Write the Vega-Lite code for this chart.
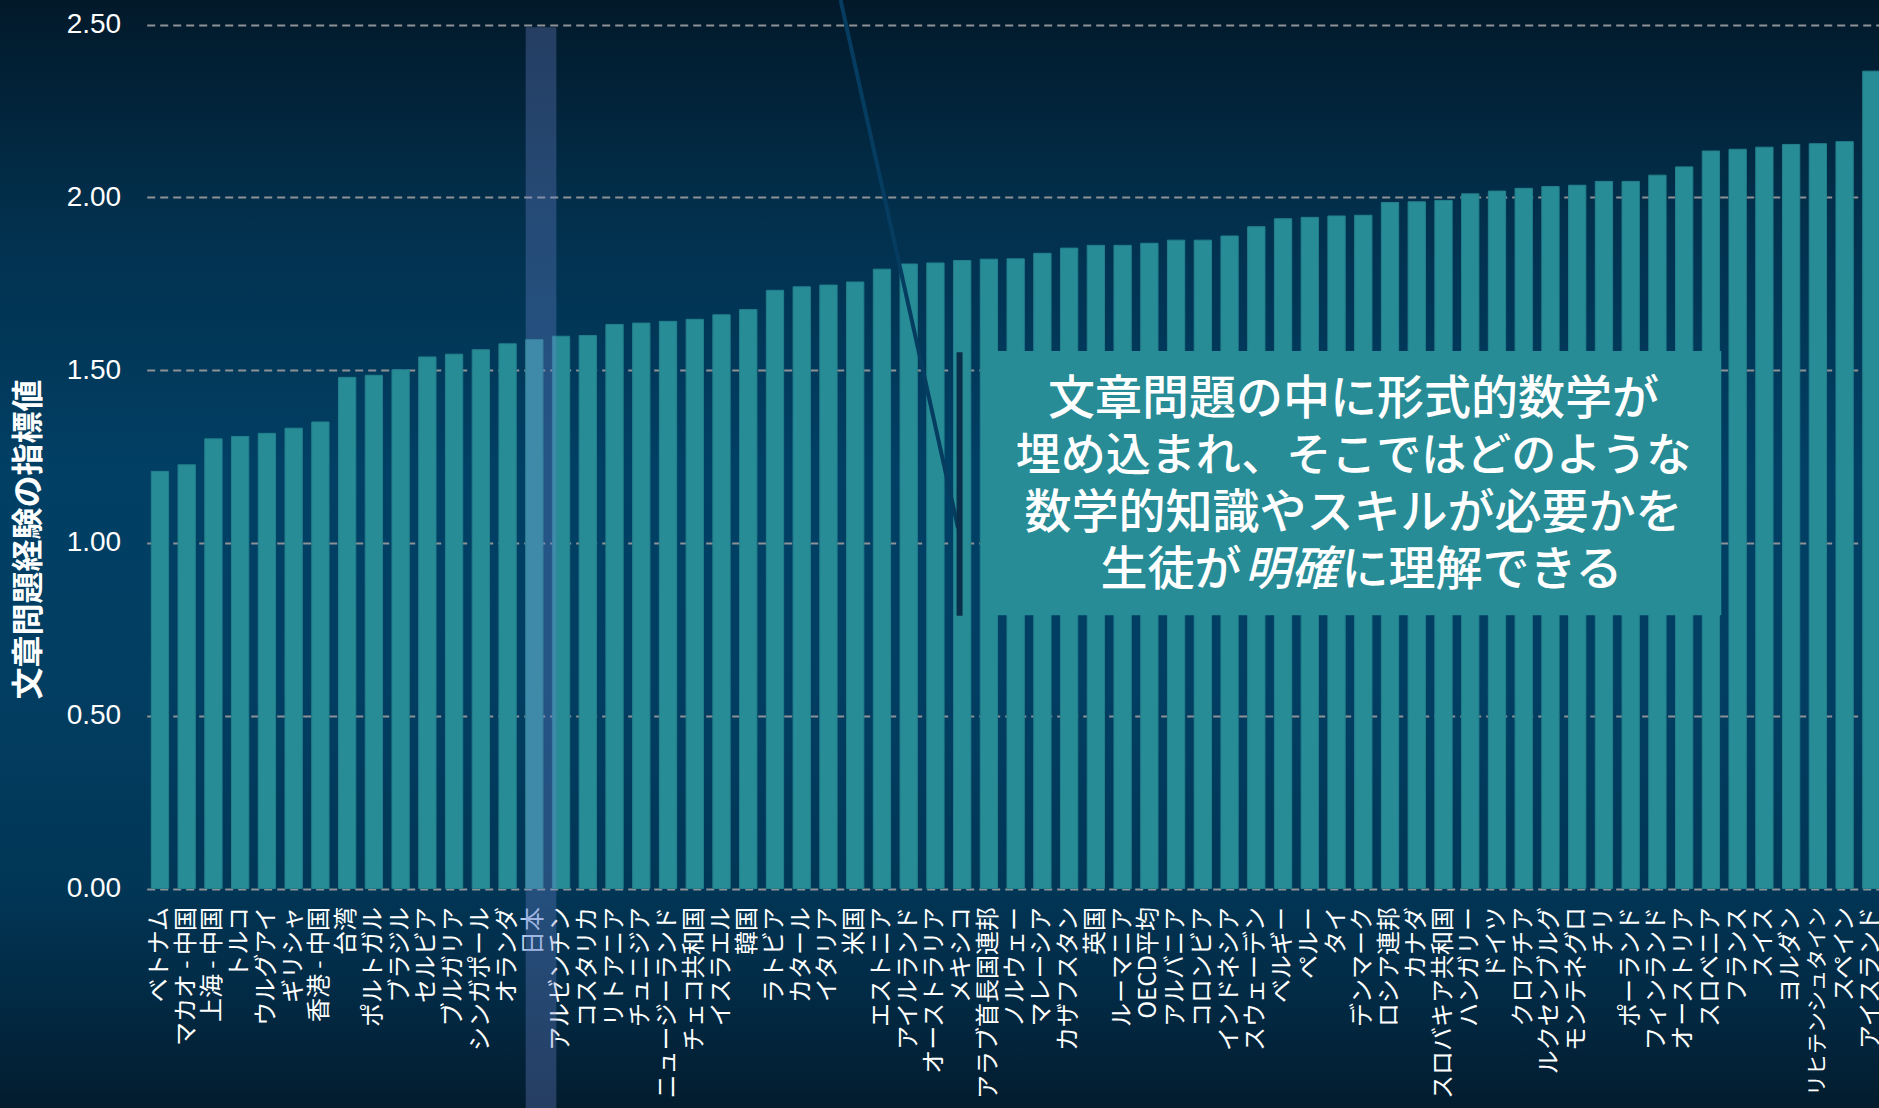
{
  "$schema": "https://vega.github.io/schema/vega-lite/v6.json",
  "width": 1879,
  "height": 1108,
  "autosize": "none",
  "padding": 0,
  "background": "#022a44",
  "config": {"view": {"stroke": null, "fill": {"gradient": "linear", "x1": 0, "y1": 0, "x2": 0, "y2": 1, "stops": [
        {"offset": 0, "color": "#02192a"},
        {"offset": 0.2, "color": "#02304d"},
        {"offset": 0.42, "color": "#013f64"},
        {"offset": 0.62, "color": "#023e62"},
        {"offset": 0.8, "color": "#013656"},
        {"offset": 0.9, "color": "#022a44"},
        {"offset": 1, "color": "#031c2e"}
      ]}}},
  "data": {"values": [
    {"country": "ベトナム", "value": 1.207},
    {"country": "マカオ - 中国", "value": 1.226},
    {"country": "上海 - 中国", "value": 1.301},
    {"country": "トルコ", "value": 1.308},
    {"country": "ウルグアイ", "value": 1.317},
    {"country": "ギリシャ", "value": 1.332},
    {"country": "香港 - 中国", "value": 1.350},
    {"country": "台湾", "value": 1.479},
    {"country": "ポルトガル", "value": 1.485},
    {"country": "ブラジル", "value": 1.501},
    {"country": "セルビア", "value": 1.538},
    {"country": "ブルガリア", "value": 1.546},
    {"country": "シンガポール", "value": 1.559},
    {"country": "オランダ", "value": 1.576},
    {"country": "日本", "value": 1.588},
    {"country": "アルゼンチン", "value": 1.598},
    {"country": "コスタリカ", "value": 1.600},
    {"country": "リトアニア", "value": 1.632},
    {"country": "チュニジア", "value": 1.636},
    {"country": "ニュージーランド", "value": 1.641},
    {"country": "チェコ共和国", "value": 1.647},
    {"country": "イスラエル", "value": 1.660},
    {"country": "韓国", "value": 1.675},
    {"country": "ラトビア", "value": 1.731},
    {"country": "カタール", "value": 1.741},
    {"country": "イタリア", "value": 1.746},
    {"country": "米国", "value": 1.755},
    {"country": "エストニア", "value": 1.792},
    {"country": "アイルランド", "value": 1.807},
    {"country": "オーストラリア", "value": 1.810},
    {"country": "メキシコ", "value": 1.817},
    {"country": "アラブ首長国連邦", "value": 1.821},
    {"country": "ノルウェー", "value": 1.822},
    {"country": "マレーシア", "value": 1.838},
    {"country": "カザフスタン", "value": 1.853},
    {"country": "英国", "value": 1.861},
    {"country": "ルーマニア", "value": 1.861},
    {"country": "OECD平均", "value": 1.867},
    {"country": "アルバニア", "value": 1.876},
    {"country": "コロンビア", "value": 1.876},
    {"country": "インドネシア", "value": 1.888},
    {"country": "スウェーデン", "value": 1.915},
    {"country": "ベルギー", "value": 1.938},
    {"country": "ペルー", "value": 1.942},
    {"country": "タイ", "value": 1.946},
    {"country": "デンマーク", "value": 1.948},
    {"country": "ロシア連邦", "value": 1.985},
    {"country": "カナダ", "value": 1.987},
    {"country": "スロバキア共和国", "value": 1.991},
    {"country": "ハンガリー", "value": 2.010},
    {"country": "ドイツ", "value": 2.018},
    {"country": "クロアチア", "value": 2.026},
    {"country": "ルクセンブルグ", "value": 2.031},
    {"country": "モンテネグロ", "value": 2.035},
    {"country": "チリ", "value": 2.046},
    {"country": "ポーランド", "value": 2.046},
    {"country": "フィンランド", "value": 2.064},
    {"country": "オーストリア", "value": 2.088},
    {"country": "スロベニア", "value": 2.134},
    {"country": "フランス", "value": 2.139},
    {"country": "スイス", "value": 2.145},
    {"country": "ヨルダン", "value": 2.153},
    {"country": "リヒテンシュタイン", "value": 2.155},
    {"country": "スペイン", "value": 2.161},
    {"country": "アイスランド", "value": 2.365}
  ]},
  "layer": [
    {
      "mark": {"type": "bar", "color": "#278c96", "stroke": "#22808c", "strokeWidth": 1},
      "encoding": {
        "x": {
          "field": "country", "type": "nominal", "sort": null,
          "scale": {
            "domain": ["ベトナム","マカオ - 中国","上海 - 中国","トルコ","ウルグアイ","ギリシャ","香港 - 中国","台湾","ポルトガル","ブラジル","セルビア","ブルガリア","シンガポール","オランダ","日本","アルゼンチン","コスタリカ","リトアニア","チュニジア","ニュージーランド","チェコ共和国","イスラエル","韓国","ラトビア","カタール","イタリア","米国","エストニア","アイルランド","オーストラリア","メキシコ","アラブ首長国連邦","ノルウェー","マレーシア","カザフスタン","英国","ルーマニア","OECD平均","アルバニア","コロンビア","インドネシア","スウェーデン","ベルギー","ペルー","タイ","デンマーク","ロシア連邦","カナダ","スロバキア共和国","ハンガリー","ドイツ","クロアチア","ルクセンブルグ","モンテネグロ","チリ","ポーランド","フィンランド","オーストリア","スロベニア","フランス","スイス","ヨルダン","リヒテンシュタイン","スペイン","アイスランド"],
            "range": [146.7, 1884.6], "paddingInner": 0.353, "paddingOuter": 0.172
          },
          "axis": {
            "title": null, "orient": "bottom", "offset": -219.5, "domain": false, "ticks": false, "tickSize": 0, "grid": false,
            "labelAngle": -90, "labelFont": "Noto Sans CJK JP",
            "labelFontSize": {"condition": {"test": "length(datum.label) > 8", "value": 21}, "value": 24},
            "labelColor": {"condition": {"test": "datum.value === '日本'", "value": "#b7cdea"}, "value": "#ffffff"},
            "labelPadding": 18, "labelOverlap": false, "labelLimit": 400, "labelBound": false
          }
        },
        "y": {
          "field": "value", "type": "quantitative", "title": "文章問題経験の指標値",
          "scale": {"domain": [0, 2.5], "range": [888.5, 24.5], "nice": false, "zero": true},
          "axis": {
            "orient": "left", "offset": -146.7, "values": [0, 0.5, 1, 1.5, 2, 2.5], "format": ".2f",
            "domain": false, "ticks": false, "tickSize": 0, "labelPadding": 26,
            "labelFont": "Liberation Sans", "labelFontSize": 28, "labelColor": "#ffffff",
            "grid": true, "gridColor": "#8d9296", "gridWidth": 2, "gridDash": [8, 5],
            "titleFont": "Noto Sans CJK JP", "titleFontSize": 32, "titleFontWeight": "bold", "titleColor": "#ffffff",
            "titleX": -118.7, "titleY": 539, "titleAngle": 270, "titleAlign": "center", "titleBaseline": "middle"
          }
        }
      }
    },
    {
      "data": {"values": [{"h": 1}]},
      "mark": {"type": "rect", "color": "#6f86cf", "opacity": 0.32},
      "encoding": {
        "x": {"datum": "日本", "bandPosition": 0},
        "x2": {"datum": "日本", "bandPosition": 1.775},
        "y": {"datum": 2.492},
        "y2": {"datum": -0.64}
      }
    },
    {
      "data": {"values": [{"l": 1}]},
      "mark": {"type": "rule", "color": "#063c60", "strokeWidth": 4},
      "encoding": {
        "x": {"datum": "イタリア", "bandPosition": 1.197},
        "x2": {"datum": "メキシコ", "bandPosition": 0.26},
        "y": {"datum": 2.571},
        "y2": {"datum": 1.043}
      }
    },
    {
      "data": {"values": [{"b": 1}]},
      "mark": {"type": "rect", "color": "#278c96"},
      "encoding": {
        "x": {"datum": "アラブ首長国連邦", "bandPosition": 0.05},
        "x2": {"datum": "スロベニア", "bandPosition": 1.1},
        "y": {"datum": 1.555},
        "y2": {"datum": 0.791}
      }
    },
    {
      "data": {"values": [{"v": 1}]},
      "mark": {"type": "rule", "color": "#0a2f4b", "strokeWidth": 6},
      "encoding": {
        "x": {"datum": "メキシコ", "bandPosition": 0.35},
        "y": {"datum": 1.552},
        "y2": {"datum": 0.789}
      }
    },
    {
      "data": {"values": [{"t": 1}]},
      "mark": {"type": "text", "text": "文章問題の中に形式的数学が", "font": "Noto Sans CJK JP", "fontSize": 47, "fontWeight": 500, "color": "#ffffff", "align": "center", "baseline": "middle", "dx": 17},
      "encoding": {"x": {"datum": "タイ"}, "y": {"datum": 1.4135}}
    },
    {
      "data": {"values": [{"t": 2}]},
      "mark": {"type": "text", "text": "埋め込まれ、そこではどのような", "font": "Noto Sans CJK JP", "fontSize": 45, "fontWeight": 500, "color": "#ffffff", "align": "center", "baseline": "middle", "dx": 17},
      "encoding": {"x": {"datum": "タイ"}, "y": {"datum": 1.2486}}
    },
    {
      "data": {"values": [{"t": 3}]},
      "mark": {"type": "text", "text": "数学的知識やスキルが必要かを", "font": "Noto Sans CJK JP", "fontSize": 47, "fontWeight": 500, "color": "#ffffff", "align": "center", "baseline": "middle", "dx": 17},
      "encoding": {"x": {"datum": "タイ"}, "y": {"datum": 1.0836}}
    },
    {
      "data": {"values": [{"t": 4}]},
      "mark": {"type": "text", "text": "生徒が", "font": "Noto Sans CJK JP", "fontSize": 47, "fontWeight": 500, "color": "#ffffff", "align": "left", "baseline": "middle", "dx": -236},
      "encoding": {"x": {"datum": "タイ"}, "y": {"datum": 0.9187}}
    },
    {
      "data": {"values": [{"t": 5}]},
      "mark": {"type": "text", "text": "明確", "font": "Noto Sans CJK JP", "fontSize": 47, "fontWeight": 500, "fontStyle": "italic", "color": "#ffffff", "align": "left", "baseline": "middle", "dx": -92},
      "encoding": {"x": {"datum": "タイ"}, "y": {"datum": 0.9187}}
    },
    {
      "data": {"values": [{"t": 6}]},
      "mark": {"type": "text", "text": "に理解できる", "font": "Noto Sans CJK JP", "fontSize": 47, "fontWeight": 500, "color": "#ffffff", "align": "left", "baseline": "middle", "dx": 5},
      "encoding": {"x": {"datum": "タイ"}, "y": {"datum": 0.9187}}
    }
  ]
}
